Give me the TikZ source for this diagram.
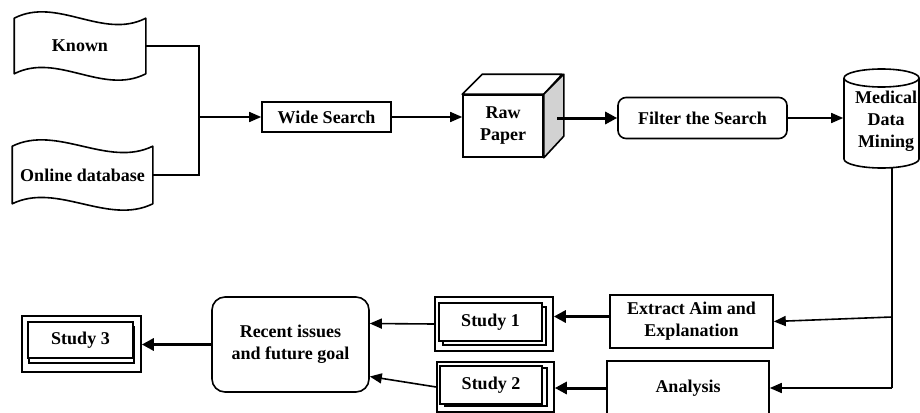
\documentclass[tikz,border=0pt]{standalone}
\usepackage{fontspec}
\setmainfont{Liberation Serif}
\usetikzlibrary{arrows.meta,calc,shadows}

\newcommand{\boxfont}{\bfseries\fontsize{18}{22}\selectfont}

\tikzset{
  base/.style={font=\boxfont, align=center, inner sep=0pt, line width=1.6pt},
  plainbox/.style={base, draw, rectangle, fill=white},
  roundbox/.style={base, draw, rectangle, rounded corners=8pt, fill=white},
  bigroundbox/.style={base, draw, rectangle, rounded corners=13pt, fill=white},
  ghost/.style={base},
  shapeline/.style={line width=1.6pt, line join=round},
  frontsheet/.style={base, draw, rectangle, fill=white, line width=1.4pt},
  outerframe/.style={base, draw, rectangle, line width=1.6pt},
  thinline/.style={line width=1.4pt},
  flow/.style={-{Triangle[length=12pt,width=10pt]}, line width=1.6pt},
  boldflow/.style={-{Triangle[length=12pt,width=12pt]}, line width=3pt},
  trunk/.style={line width=2.7pt}
}

\begin{document}
\begin{tikzpicture}[x=1pt,y=-1pt]
\useasboundingbox (0,0) rectangle (920,412);

% ---------- sources (wavy tape shapes) ----------
\node[ghost, minimum width=130pt, minimum height=54pt] (known) at (80,46) {Known};
\draw[shapeline] (known.north west) .. controls +(43,-22) and +(-43,22) .. (known.north east)
  -- (known.south east) .. controls +(-43,22) and +(43,-22) .. (known.south west) -- cycle;

\node[ghost, minimum width=139pt, minimum height=56pt] (online) at (82.5,175) {Online database};
\draw[shapeline] (online.north west) .. controls +(45,-22) and +(-45,22) .. (online.north east)
  -- (online.south east) .. controls +(-45,22) and +(45,-22) .. (online.south west) -- cycle;

\coordinate (jt) at (199,48);
\coordinate (jm) at (199,117);

\draw[thinline] (known.east) -- (known.east -| jt) -- (online.east -| jt) -- (online.east);

% ---------- top row ----------
\node[plainbox, minimum width=129pt, minimum height=30pt] (wide) at (326.5,117) {Wide Search};
\draw[flow] (jm) -- (wide.west);

% raw paper cube
\node[plainbox, minimum width=80pt, minimum height=62pt] (raw) at (503,126) {Raw\\Paper};
\draw[shapeline, fill=white] (raw.north west) -- ++(20,-20) -- ++(80,0) -- (raw.north east) -- cycle;
\draw[shapeline, fill=gray!35] (raw.north east) -- ++(20,-20) -- ++(0,62) -- (raw.south east) -- cycle;
\draw[flow] (wide.east) -- (wide.east -| raw.west);

\node[roundbox, minimum width=169pt, minimum height=41pt] (filter) at (702.5,118) {Filter the Search};
\coordinate (rawout) at (557,118);
\draw[boldflow] (rawout) -- (rawout -| filter.west);

% data mining cylinder
\draw[shapeline, fill=white] (844,78) -- (844,159)
  arc[start angle=180, end angle=0, x radius=37.5, y radius=9] -- (919,78);
\draw[shapeline, fill=white] (881.5,78) ellipse [x radius=37.5, y radius=9];
\node[ghost, minimum width=75pt, minimum height=99pt] (mdm) at (881.5,119) {};
\node[ghost] (mdmtext) at (886,121) {Medical\\Data\\Mining};
\draw[flow] (filter.east) -- (filter.east -| mdm.west);

% ---------- bottom row ----------
\node[plainbox, minimum width=163pt, minimum height=53pt] (extract) at (691.5,321.5) {Extract Aim and\\Explanation};
\node[plainbox, minimum width=162pt, minimum height=54pt] (analysis) at (688,388) {Analysis};

\coordinate (vtop) at (892,168);
\coordinate (vmid) at (892,317);
\coordinate (vbot) at (892,388);
\draw[trunk] (vtop) -- (vbot);
\draw[flow] (vmid) -- (extract.east);
\draw[flow] (vbot) -- (analysis.east);

% study sheets
\node[outerframe, minimum width=118pt, minimum height=54pt] (study1) at (494,324) {};
\node[frontsheet, minimum width=103pt, minimum height=38pt,
      copy shadow={shadow xshift=4pt, shadow yshift=-4pt}] (s1front) at (490.5,322) {Study 1};

\node[outerframe, minimum width=117pt, minimum height=50pt] (study2) at (495.5,387) {};
\node[frontsheet, minimum width=102pt, minimum height=38pt,
      copy shadow={shadow xshift=5pt, shadow yshift=-2pt}] (s2front) at (491,385) {Study 2};

\node[outerframe, minimum width=119pt, minimum height=56pt] (study3) at (81.5,344) {};
\node[frontsheet, minimum width=105pt, minimum height=36pt,
      copy shadow={shadow xshift=1pt, shadow yshift=-5pt}] (s3front) at (80.5,340) {Study 3};

\node[bigroundbox, minimum width=157pt, minimum height=95pt] (recent) at (290.5,344.5) {Recent issues\\and future goal};

\draw[boldflow] ([yshift=5pt]extract.west) -- ([yshift=5pt]extract.west -| study1.east);
\draw[boldflow] (analysis.west) -- (analysis.west -| study2.east);
\draw[flow] (study1.west) -- ([yshift=21pt]recent.east);
\draw[flow] (study2.west) -- ([yshift=-32pt]recent.east);
\draw[boldflow] (recent.west) -- (recent.west -| study3.east);
\end{tikzpicture}
\end{document}
